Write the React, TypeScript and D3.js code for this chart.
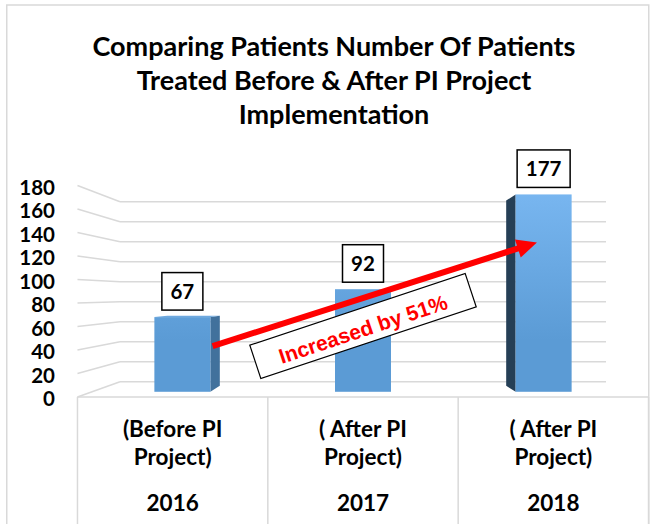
import React from 'react';
import * as d3 from 'd3';

const titleLines = [
  'Comparing Patients Number Of Patients',
  'Treated Before & After PI Project',
  'Implementation',
];
const years = ['2016', '2017', '2018'];
const periodLines = [
  ['(Before PI', 'Project)'],
  ['( After PI', 'Project)'],
  ['( After PI', 'Project)'],
];
const patients = [67, 92, 177];
const yTicks = [0, 20, 40, 60, 80, 100, 120, 140, 160, 180];
const annotationText = 'Increased by 51%';
const arrowFromValue = 41;
const arrowToValue = 134;

const W = 653;
const H = 524;
const VP = { x: 363, y: 294 };
const S_FRONT = 1.175;
const S_BAR_FRONT = 1.115;
const S_BAR_BACK = 1.046;
const GRID = '#d9d9d9';
const FONT = 'Lato, "Open Sans", sans-serif';

const proj = (bx: number, by: number, s: number): [number, number] => [
  VP.x + s * (bx - VP.x),
  VP.y + s * (by - VP.y),
];
const pts = (arr: [number, number][]) => arr.map((p) => p.join(',')).join(' ');

export default function App() {
  const x = d3
    .scaleBand<string>()
    .domain(years)
    .range([120, 606])
    .paddingInner(0.69)
    .paddingOuter(0.345);
  const y = d3.scaleLinear().domain([0, 180]).range([381.7, 201.7]);
  const bw = x.bandwidth();
  const step = x.step();
  const r0 = x.range()[0];
  const r1 = x.range()[1];

  const tableTop = proj(r0, y(0), S_FRONT)[1];
  const colEdges = d3.range(years.length + 1).map((i) => proj(r0 + i * step, y(0), S_FRONT)[0]);

  // arrow
  const aStart = proj(x(years[0])! + bw + 2, y(arrowFromValue), S_BAR_FRONT);
  const aTip = proj(x(years[2])! + bw * 0.38, y(arrowToValue), S_BAR_FRONT);
  const dx = aTip[0] - aStart[0];
  const dy = aTip[1] - aStart[1];
  const len = Math.hypot(dx, dy);
  const ux = dx / len;
  const uy = dy / len;
  const headL = 20;
  const headW = 9.5;
  const hb: [number, number] = [aTip[0] - ux * headL, aTip[1] - uy * headL];
  const head: [number, number][] = [
    aTip,
    [hb[0] - uy * headW, hb[1] + ux * headW],
    [hb[0] + uy * headW, hb[1] - ux * headW],
  ];

  const boxC = proj(x(years[1])! + bw / 2, y(59), S_BAR_FRONT);

  return (
    <svg
      width={W}
      height={H}
      style={{ position: 'absolute', left: 0, top: 0, background: '#fff' }}
      fontFamily={FONT}
    >
      <defs>
        <linearGradient id="barGrad" gradientUnits="userSpaceOnUse" x1="0" y1="193" x2="0" y2="340">
          <stop offset="0" stopColor="#78b6f0" />
          <stop offset="1" stopColor="#5b9bd5" />
        </linearGradient>
      </defs>
      <rect x={0} y={0} width={W} height={H} fill="#fff" />
      {/* outer frame */}
      <rect x={6.75} y={5} width={642} height={H + 20} fill="none" stroke={GRID} strokeWidth={1.5} />

      {/* title */}
      {titleLines.map((t, i) => (
        <text
          key={i}
          x={334}
          y={55.5 + i * 34}
          textAnchor="middle"
          fontSize={27}
          fontWeight={700}
          fill="#000"
        >
          {t}
        </text>
      ))}

      {/* gridlines: back wall + left side wall */}
      {yTicks.map((v) => {
        const f = proj(r0, y(v), S_FRONT);
        return (
          <g key={v}>
            <line x1={f[0]} y1={f[1]} x2={r0} y2={y(v)} stroke={GRID} strokeWidth={1.5} />
            <line x1={r0} y1={y(v)} x2={r1} y2={y(v)} stroke={GRID} strokeWidth={1.5} />
          </g>
        );
      })}

      {/* y tick labels */}
      {yTicks.map((v) => {
        const f = proj(r0, y(v), S_FRONT);
        return (
          <text key={v} x={55} y={f[1] + 2 + 7.2} textAnchor="end" fontSize={20.5} fontWeight={700}>
            {v}
          </text>
        );
      })}

      {/* bars */}
      {patients.map((v, i) => {
        const bx0 = x(years[i])!;
        const bx1 = bx0 + bw;
        const by0 = y(0);
        const by1 = y(v);
        const ftl = proj(bx0, by1, S_BAR_FRONT);
        const fbr = proj(bx1, by0, S_BAR_FRONT);
        let side: React.ReactNode = null;
        if (bx1 < VP.x) {
          side = (
            <polygon
              points={pts([
                proj(bx1, by1, S_BAR_FRONT),
                proj(bx1, by1, S_BAR_BACK),
                proj(bx1, by0, S_BAR_BACK),
                proj(bx1, by0, S_BAR_FRONT),
              ])}
              fill="#41719c"
            />
          );
        } else if (bx0 > VP.x) {
          side = (
            <polygon
              points={pts([
                proj(bx0, by1, S_BAR_FRONT),
                proj(bx0, by1, S_BAR_BACK),
                proj(bx0, by0, S_BAR_BACK),
                proj(bx0, by0, S_BAR_FRONT),
              ])}
              fill="#253f56"
            />
          );
        }
        const top =
          ftl[1] > VP.y ? (
            <polygon
              points={pts([
                proj(bx0, by1, S_BAR_FRONT),
                proj(bx1, by1, S_BAR_FRONT),
                proj(bx1, by1, S_BAR_BACK),
                proj(bx0, by1, S_BAR_BACK),
              ])}
              fill="#6fa9df"
            />
          ) : null;
        return (
          <g key={years[i]}>
            {side}
            {top}
            <rect x={ftl[0]} y={ftl[1]} width={fbr[0] - ftl[0]} height={fbr[1] - ftl[1]} fill="url(#barGrad)" />
          </g>
        );
      })}

      {/* data labels */}
      {patients.map((v, i) => {
        const c = proj(x(years[i])! + bw / 2, y(v), S_BAR_FRONT);
        const label = String(v);
        const bwid = 17 + 12 * label.length;
        const bh = 37.5;
        const bottom = c[1] - 7;
        return (
          <g key={'l' + i}>
            <rect x={c[0] - bwid / 2} y={bottom - bh} width={bwid} height={bh} fill="#fff" stroke="#000" strokeWidth={1.5} />
            <text x={c[0]} y={bottom - bh / 2 + 7.4} textAnchor="middle" fontSize={20.5} fontWeight={700}>
              {label}
            </text>
          </g>
        );
      })}

      {/* annotation box */}
      <g transform={`translate(${boxC[0]},${boxC[1]}) rotate(-18.4)`}>
        <rect x={-113.5} y={-17.5} width={227} height={35} fill="#fff" stroke="#000" strokeWidth={1.2} />
        <text
          x={-1}
          y={10.5}
          textAnchor="middle"
          fontFamily='"Liberation Sans", Arial, sans-serif'
          fontWeight={700}
          fontSize={21}
          fill="#ff0000"
        >
          {annotationText}
        </text>
      </g>

      {/* arrow */}
      <line x1={aStart[0]} y1={aStart[1]} x2={hb[0] + ux * 2} y2={hb[1] + uy * 2} stroke="#ff0000" strokeWidth={6} />
      <polygon points={pts(head)} fill="#ff0000" />

      {/* category table */}
      <line x1={colEdges[0]} y1={tableTop} x2={colEdges[3]} y2={tableTop} stroke={GRID} strokeWidth={1.5} />
      {colEdges.map((cx, i) => (
        <line key={i} x1={cx} y1={tableTop} x2={cx} y2={H + 5} stroke={GRID} strokeWidth={1.5} />
      ))}
      {years.map((yr, i) => {
        const cx = (colEdges[i] + colEdges[i + 1]) / 2;
        return (
          <g key={yr} fontSize={22.5} fontWeight={700} textAnchor="middle">
            <text x={cx} y={tableTop + 39.5}>{periodLines[i][0]}</text>
            <text x={cx} y={tableTop + 68}>{periodLines[i][1]}</text>
            <text x={cx} y={tableTop + 113.5}>{yr}</text>
          </g>
        );
      })}
    </svg>
  );
}
